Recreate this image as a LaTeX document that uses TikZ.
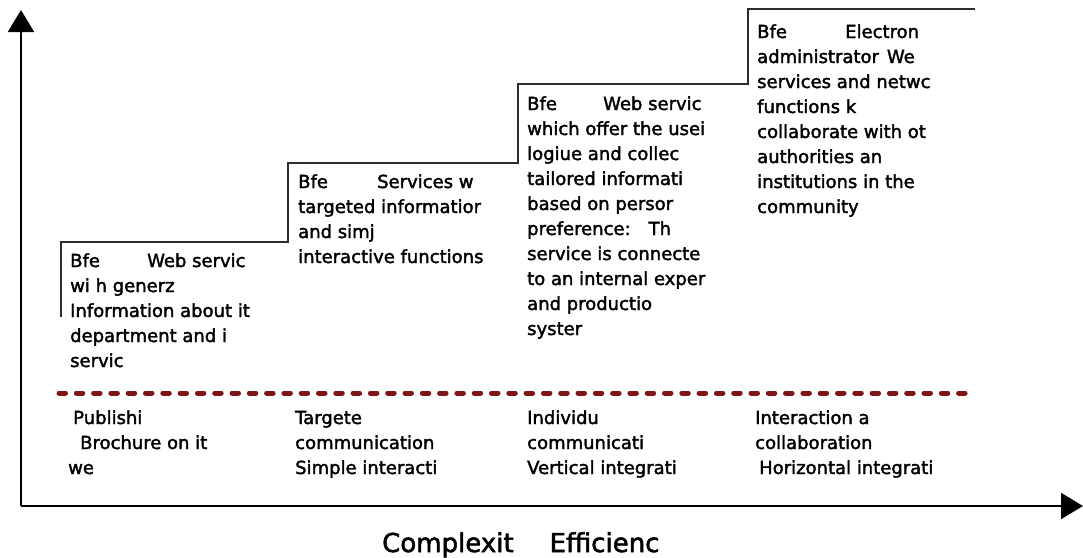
\documentclass[tikz,border=0pt]{standalone}
\usepackage{fontspec}
\setmainfont{DejaVu Sans}[FakeBold=2]
\usetikzlibrary{arrows.meta}
\definecolor{sepred}{RGB}{128,21,21}
\definecolor{stairgray}{RGB}{45,45,45}
\newcommand\stairtxt[1]{\parbox[t]{260pt}{\fontsize{18}{25}\selectfont\raggedright #1}}
\begin{document}
\begin{tikzpicture}[x=1pt,y=-1pt,
  axis/.style={line width=2pt,-{Triangle[length=22pt,width=26pt]}},
  stair/.style={draw=stairgray,line width=1.3pt},
  lbl/.style={anchor=base west,inner sep=0pt},
  sep/.style={draw=sepred,line width=5pt,line cap=round,dash pattern=on 6.5pt off 10.8pt}]
\useasboundingbox (0,0) rectangle (1083,557);
\coordinate (o) at (21,506);
\coordinate (ytip) at (21,10);
\coordinate (xtip) at (1083,506);
\draw[axis] (o) -- (ytip);
\draw[axis] (o) -- (xtip);
\draw[stair] (61,317) -- (61,242) -- (288,242) -- (288,163) -- (518,163) -- (518,84) -- (748,84) -- (748,9) -- (975,9);
\coordinate (sepa) at (59,393);
\coordinate (sepb) at (975,393);
\draw[sep] (sepa) -- (sepb);
\node[lbl] (s1) at (70,267) {\stairtxt{\makebox[77pt][l]{Bfe}Web servic\\wi h generz\\Information about it\\department and i\\servic}};
\node[lbl] (s2) at (298,188) {\stairtxt{\makebox[79pt][l]{Bfe}Services w\\targeted informatior\\and simj\\interactive functions}};
\node[lbl] (s3) at (527,110) {\stairtxt{\makebox[76pt][l]{Bfe}Web servic\\which offer the usei\\logiue and collec\\tailored informati\\based on persor\\preference:\hspace{18pt}Th\\service is connecte\\to an internal exper\\and productio\\syster}};
\node[lbl] (s4) at (757,38) {\stairtxt{\makebox[88pt][l]{Bfe}Electron\\administrator\hspace{8pt}We\\services and netwc\\functions k\\collaborate with ot\\authorities an\\institutions in the\\community}};
\node[lbl] (b1) at (68,424) {\stairtxt{\hspace*{5pt}Publishi\\\hspace*{12pt}Brochure on it\\we}};
\node[lbl] (b2) at (295,424) {\stairtxt{Targete\\communication\\Simple interacti}};
\node[lbl] (b3) at (527,424) {\stairtxt{Individu\\communicati\\Vertical integrati}};
\node[lbl] (b4) at (755,424) {\stairtxt{Interaction a\\collaboration\\\hspace*{4pt}Horizontal integrati}};
\node[lbl,text depth=0pt,font=\fontsize{26}{30}\selectfont] (xl) at (382,552) {Complexit\hspace{36pt}Efficienc};
\end{tikzpicture}
\end{document}
